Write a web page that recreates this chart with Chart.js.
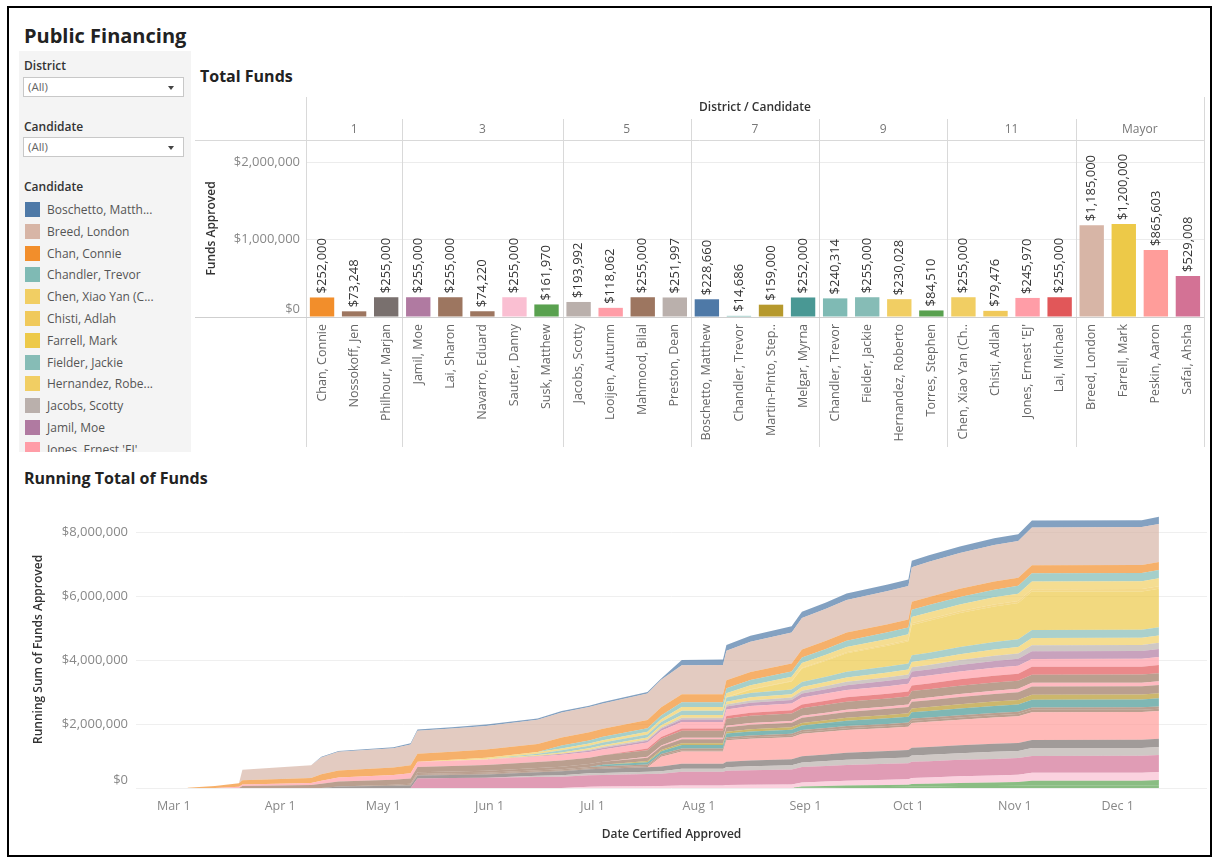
<!DOCTYPE html>
<html lang="en">
<head>
<meta charset="utf-8">
<title>Public Financing</title>
<script src="https://cdn.jsdelivr.net/npm/chart.js@4.4.1/dist/chart.umd.min.js"></script>
<style>
  html, body { margin: 0; padding: 0; background: #fff; }
  body { position: relative; width: 1217px; height: 861px; overflow: hidden; font-family: "Open Sans", Lato, sans-serif; color: #333; }
  .frame { position: absolute; left: 7px; top: 6px; width: 1201px; height: 847px; border: 2px solid #000; pointer-events: none; }
  .title { position: absolute; font-weight: 700; color: #222; white-space: nowrap; }
  .sidebar { position: absolute; left: 19px; top: 51px; width: 172px; height: 401px; background: #f4f4f4; overflow: hidden; }
  .label { position: absolute; left: 5px; font-size: 12px; font-weight: 600; color: #333; line-height: 16px; }
  .select { position: absolute; left: 4px; width: 161px; height: 20px; background: #fff; border: 1px solid #c8c8c8; box-sizing: border-box; font-size: 11.5px; color: #666; line-height: 18px; padding-left: 4px; }
  .select .arrow { position: absolute; right: 9px; top: 8px; width: 0; height: 0; border-left: 3px solid transparent; border-right: 3px solid transparent; border-top: 4px solid #444; }
  .legend-item { position: absolute; left: 6px; height: 16px; font-size: 12px; color: #555; line-height: 16px; white-space: nowrap; }
  .legend-item i { position: absolute; left: 0; top: 0; width: 15px; height: 15px; }
  .legend-item span { position: absolute; left: 22px; top: 0; }
  canvas { position: absolute; }
</style>
</head>
<body>
<div class="title" style="left:24px;top:23px;font-size:20px;line-height:26px;">Public Financing</div>
<div class="sidebar" id="sidebar">
  <div class="label" style="top:7px;">District</div>
  <div class="select" style="top:26px;">(All)<span class="arrow"></span></div>
  <div class="label" style="top:68px;">Candidate</div>
  <div class="select" style="top:86px;">(All)<span class="arrow"></span></div>
  <div class="label" style="top:128px;">Candidate</div>
</div>
<div class="title" style="left:200px;top:66px;font-size:16px;line-height:20px;">Total Funds</div>
<div class="title" style="left:24px;top:468px;font-size:16px;line-height:20px;">Running Total of Funds</div>
<canvas id="bars" width="1015" height="365" style="left:195px;top:90px;width:1015px;height:365px;"></canvas>
<canvas id="running" width="1195" height="355" style="left:17px;top:495px;width:1195px;height:355px;"></canvas>
<div class="frame"></div>

<script>
// ---------- Total funds per candidate, grouped by district ----------
const barLabels = ['Chan, Connie', 'Nossokoff, Jen', 'Philhour, Marjan',
  'Jamil, Moe', 'Lai, Sharon', 'Navarro, Eduard', 'Sauter, Danny', 'Susk, Matthew',
  'Jacobs, Scotty', 'Looijen, Autumn', 'Mahmood, Bilal', 'Preston, Dean',
  'Boschetto, Matthew', 'Chandler, Trevor', 'Martin-Pinto, Step..', 'Melgar, Myrna',
  'Chandler, Trevor', 'Fielder, Jackie', 'Hernandez, Roberto', 'Torres, Stephen',
  'Chen, Xiao Yan (Ch..', 'Chisti, Adlah', "Jones, Ernest 'EJ'", 'Lai, Michael',
  'Breed, London', 'Farrell, Mark', 'Peskin, Aaron', 'Safai, Ahsha'];
const barDistricts = ['1', '1', '1', '3', '3', '3', '3', '3', '5', '5', '5', '5',
  '7', '7', '7', '7', '9', '9', '9', '9', '11', '11', '11', '11',
  'Mayor', 'Mayor', 'Mayor', 'Mayor'];
const fundsApproved = [252000, 73248, 255000,
  255000, 255000, 74220, 255000, 161970,
  193992, 118062, 255000, 251997,
  228660, 14686, 159000, 252000,
  240314, 255000, 230028, 84510,
  255000, 79476, 245970, 255000,
  1185000, 1200000, 865603, 529008];
const barTicks = [0, 1000000, 2000000];

// ---------- Candidate legend (as listed in the side panel) ----------
const legendLabels = ['Boschetto, Matth...', 'Breed, London', 'Chan, Connie', 'Chandler, Trevor',
  'Chen, Xiao Yan (C...', 'Chisti, Adlah', 'Farrell, Mark', 'Fielder, Jackie',
  'Hernandez, Robe...', 'Jacobs, Scotty', 'Jamil, Moe', "Jones, Ernest 'EJ'"];

// ---------- Running total of funds approved, by certification date ----------
const runDates = ['2024-03-05', '2024-03-13', '2024-03-20', '2024-03-21', '2024-04-10', '2024-04-13',
  '2024-04-18', '2024-05-04', '2024-05-09', '2024-05-11', '2024-05-21', '2024-05-31',
  '2024-06-15', '2024-06-22', '2024-06-30', '2024-07-04', '2024-07-17', '2024-07-21',
  '2024-07-27', '2024-08-08', '2024-08-09', '2024-08-16', '2024-08-28', '2024-08-31',
  '2024-09-07', '2024-09-13', '2024-09-25', '2024-10-01', '2024-10-02', '2024-10-07',
  '2024-10-16', '2024-10-26', '2024-11-02', '2024-11-06', '2024-12-08', '2024-12-13'];

const runBoschetto = [0, 0, 0, 0, 0, 30000,
  30000, 30000, 35000, 40000, 40000, 40000,
  40000, 45000, 45000, 45000, 45000, 45000,
  170000, 170000, 180000, 185000, 190000, 190000,
  195000, 200000, 200000, 200000, 200000, 205000,
  205000, 210000, 210000, 215000, 215000, 228660];
const runBreed = [0, 0, 0, 330000, 400000, 520000,
  580000, 600000, 650000, 720000, 720000, 740000,
  760000, 780000, 790000, 790000, 830000, 860000,
  900000, 910000, 925000, 950000, 970000, 985000,
  1000000, 1020000, 1040000, 1050000, 1080000, 1100000,
  1120000, 1140000, 1150000, 1180000, 1185000, 1185000];
const runChan = [10000, 60000, 110000, 130000, 150000, 200000,
  220000, 230000, 252000, 252000, 252000, 252000,
  252000, 252000, 252000, 252000, 252000, 252000,
  252000, 252000, 252000, 252000, 252000, 252000,
  252000, 252000, 252000, 252000, 252000, 252000,
  252000, 252000, 252000, 252000, 252000, 252000];
const runChandler = [0, 0, 0, 0, 0, 0,
  0, 0, 0, 0, 0, 0,
  0, 90000, 100000, 105000, 115000, 120000,
  150000, 150000, 155000, 160000, 165000, 175000,
  185000, 195000, 205000, 210000, 225000, 230000,
  235000, 240000, 245000, 255000, 255000, 255000];
const runChen = [0, 0, 0, 0, 0, 0,
  0, 0, 0, 0, 30000, 40000,
  50000, 60000, 65000, 70000, 80000, 85000,
  110000, 110000, 115000, 125000, 130000, 145000,
  155000, 165000, 175000, 180000, 200000, 205000,
  215000, 225000, 230000, 245000, 245000, 255000];
const runChisti = [0, 0, 0, 0, 0, 0,
  0, 0, 0, 0, 0, 0,
  0, 0, 0, 0, 0, 0,
  10000, 10000, 12000, 15000, 18000, 25000,
  28000, 32000, 36000, 40000, 48000, 50000,
  55000, 60000, 65000, 75000, 75000, 79476];
const runFarrell = [0, 0, 0, 0, 0, 0,
  0, 0, 0, 0, 0, 0,
  0, 0, 0, 0, 0, 0,
  0, 0, 0, 100000, 250000, 420000,
  500000, 580000, 650000, 690000, 950000, 1000000,
  1060000, 1110000, 1130000, 1200000, 1200000, 1200000];
const runFielder = [0, 0, 0, 0, 0, 0,
  0, 0, 0, 0, 0, 0,
  40000, 70000, 80000, 90000, 100000, 105000,
  130000, 130000, 135000, 140000, 145000, 160000,
  170000, 180000, 190000, 195000, 210000, 215000,
  225000, 235000, 240000, 250000, 250000, 255000];
const runHernandez = [0, 0, 0, 0, 0, 0,
  0, 0, 0, 0, 0, 20000,
  30000, 40000, 45000, 50000, 60000, 65000,
  85000, 85000, 90000, 100000, 105000, 115000,
  125000, 135000, 145000, 150000, 165000, 170000,
  185000, 200000, 205000, 225000, 225000, 230028];
const runJacobs = [0, 0, 0, 0, 0, 0,
  0, 0, 0, 0, 0, 0,
  0, 0, 30000, 35000, 40000, 45000,
  55000, 55000, 60000, 70000, 75000, 85000,
  95000, 105000, 115000, 120000, 135000, 140000,
  150000, 160000, 165000, 185000, 185000, 193992];
const runJamil = [0, 0, 0, 0, 0, 0,
  0, 0, 0, 0, 0, 0,
  20000, 30000, 40000, 45000, 55000, 60000,
  80000, 80000, 90000, 100000, 110000, 125000,
  140000, 150000, 165000, 170000, 185000, 190000,
  205000, 215000, 220000, 245000, 245000, 255000];
const runJones = [0, 0, 40000, 50000, 70000, 100000,
  130000, 150000, 160000, 160000, 165000, 170000,
  175000, 180000, 185000, 185000, 190000, 195000,
  200000, 200000, 205000, 210000, 215000, 220000,
  225000, 230000, 235000, 240000, 245970, 245970,
  245970, 245970, 245970, 245970, 245970, 245970];
const runLaiMichael = [0, 0, 0, 0, 0, 0,
  0, 0, 0, 0, 0, 0,
  0, 0, 0, 0, 50000, 55000,
  75000, 75000, 85000, 95000, 100000, 115000,
  125000, 140000, 150000, 160000, 175000, 185000,
  200000, 215000, 220000, 245000, 245000, 255000];
const runLaiSharon = [0, 0, 0, 60000, 90000, 130000,
  150000, 160000, 170000, 170000, 175000, 180000,
  185000, 190000, 195000, 200000, 205000, 210000,
  220000, 220000, 225000, 230000, 235000, 240000,
  245000, 248000, 250000, 250000, 255000, 255000,
  255000, 255000, 255000, 255000, 255000, 255000];
const runLooijen = [0, 0, 0, 0, 0, 0,
  0, 0, 0, 0, 0, 0,
  0, 0, 0, 0, 30000, 32000,
  40000, 40000, 45000, 50000, 52000, 60000,
  65000, 70000, 75000, 78000, 85000, 88000,
  95000, 100000, 105000, 115000, 115000, 118062];
const runMahmood = [0, 0, 0, 0, 0, 0,
  0, 0, 0, 50000, 55000, 60000,
  70000, 80000, 90000, 95000, 105000, 110000,
  130000, 130000, 135000, 140000, 145000, 160000,
  170000, 180000, 190000, 195000, 205000, 210000,
  225000, 235000, 240000, 255000, 255000, 255000];
const runMartinPinto = [0, 0, 0, 0, 0, 0,
  0, 0, 0, 0, 0, 0,
  0, 0, 0, 0, 40000, 42000,
  55000, 55000, 60000, 70000, 72000, 80000,
  90000, 95000, 105000, 110000, 120000, 125000,
  135000, 140000, 145000, 155000, 155000, 159000];
const runMelgar = [0, 0, 0, 0, 0, 0,
  0, 0, 0, 0, 0, 0,
  0, 0, 0, 50000, 70000, 80000,
  110000, 110000, 115000, 125000, 130000, 145000,
  155000, 165000, 175000, 180000, 195000, 200000,
  210000, 220000, 225000, 245000, 245000, 252000];
const runNavarro = [0, 0, 0, 0, 0, 0,
  0, 30000, 30000, 30000, 32000, 35000,
  38000, 40000, 42000, 44000, 46000, 48000,
  52000, 52000, 55000, 58000, 60000, 63000,
  65000, 67000, 69000, 70000, 72000, 72000,
  73000, 74220, 74220, 74220, 74220, 74220];
const runNossokoff = [0, 0, 0, 0, 0, 0,
  0, 0, 20000, 20000, 22000, 24000,
  26000, 28000, 30000, 32000, 35000, 37000,
  40000, 40000, 42000, 45000, 48000, 52000,
  55000, 58000, 60000, 62000, 65000, 66000,
  68000, 70000, 70000, 73248, 73248, 73248];
const runPeskin = [0, 0, 0, 0, 0, 0,
  0, 0, 0, 0, 0, 0,
  0, 0, 0, 0, 0, 310000,
  380000, 380000, 670000, 680000, 690000, 700000,
  705000, 710000, 720000, 730000, 780000, 790000,
  800000, 820000, 830000, 865603, 865603, 865603];
const runPhilhour = [0, 0, 0, 0, 0, 0,
  50000, 70000, 80000, 90000, 95000, 100000,
  110000, 120000, 125000, 130000, 140000, 145000,
  160000, 160000, 170000, 180000, 185000, 195000,
  205000, 215000, 225000, 230000, 240000, 242000,
  245000, 250000, 250000, 255000, 255000, 255000];
const runPreston = [0, 0, 0, 0, 0, 0,
  0, 0, 0, 0, 0, 0,
  40000, 50000, 60000, 65000, 75000, 80000,
  95000, 95000, 110000, 125000, 130000, 145000,
  155000, 165000, 175000, 180000, 195000, 200000,
  210000, 220000, 225000, 245000, 245000, 251997];
const runSafai = [0, 0, 0, 0, 0, 0,
  0, 0, 0, 300000, 310000, 320000,
  340000, 350000, 360000, 360000, 380000, 385000,
  430000, 430000, 450000, 455000, 470000, 480000,
  485000, 490000, 495000, 500000, 510000, 512000,
  515000, 520000, 520000, 529008, 529008, 529008];
const runSauter = [0, 0, 0, 0, 0, 0,
  0, 0, 0, 0, 0, 0,
  0, 0, 40000, 45000, 55000, 60000,
  75000, 75000, 90000, 100000, 110000, 125000,
  140000, 150000, 165000, 170000, 185000, 190000,
  205000, 215000, 225000, 245000, 250000, 255000];
const runSusk = [0, 0, 0, 0, 0, 0,
  0, 0, 0, 0, 0, 0,
  0, 0, 0, 0, 0, 0,
  0, 0, 0, 0, 0, 30000,
  40000, 50000, 60000, 65000, 80000, 85000,
  100000, 110000, 120000, 150000, 150000, 161970];
const runTorres = [0, 0, 0, 0, 0, 0,
  0, 0, 0, 0, 0, 0,
  0, 0, 0, 0, 0, 0,
  0, 0, 0, 0, 0, 20000,
  25000, 30000, 35000, 40000, 45000, 50000,
  60000, 65000, 70000, 80000, 80000, 84510];

// Series in legend (alphabetical) order; the first one sits on top of the stack.
const runSeries = [
  ['Boschetto, Matthew', runBoschetto], ['Breed, London', runBreed], ['Chan, Connie', runChan],
  ['Chandler, Trevor', runChandler], ['Chen, Xiao Yan (Cheyenne)', runChen], ['Chisti, Adlah', runChisti],
  ['Farrell, Mark', runFarrell], ['Fielder, Jackie', runFielder], ['Hernandez, Roberto', runHernandez],
  ['Jacobs, Scotty', runJacobs], ['Jamil, Moe', runJamil], ["Jones, Ernest 'EJ'", runJones],
  ['Lai, Michael', runLaiMichael], ['Lai, Sharon', runLaiSharon], ['Looijen, Autumn', runLooijen],
  ['Mahmood, Bilal', runMahmood], ['Martin-Pinto, Stephen', runMartinPinto], ['Melgar, Myrna', runMelgar],
  ['Navarro, Eduard', runNavarro], ['Nossokoff, Jen', runNossokoff], ['Peskin, Aaron', runPeskin],
  ['Philhour, Marjan', runPhilhour], ['Preston, Dean', runPreston], ['Safai, Ahsha', runSafai],
  ['Sauter, Danny', runSauter], ['Susk, Matthew', runSusk], ['Torres, Stephen', runTorres]
];
const monthTickDates = ['2024-03-01', '2024-04-01', '2024-05-01', '2024-06-01', '2024-07-01',
  '2024-08-01', '2024-09-01', '2024-10-01', '2024-11-01', '2024-12-01'];
const monthTickLabels = ['Mar 1', 'Apr 1', 'May 1', 'Jun 1', 'Jul 1', 'Aug 1', 'Sep 1', 'Oct 1', 'Nov 1', 'Dec 1'];
const runTicks = [0, 2000000, 4000000, 6000000, 8000000];

// ---------- Styling ----------
const FONT = '"Open Sans", Lato, sans-serif';
const palette = {
  'Boschetto, Matthew': '#4E79A7', 'Breed, London': '#D7B5A6', 'Chan, Connie': '#F28E2B',
  'Chandler, Trevor': '#7FBAB4', 'Chen, Xiao Yan (Cheyenne)': '#F1CE63', 'Chisti, Adlah': '#F0C95A',
  'Farrell, Mark': '#EDC948', 'Fielder, Jackie': '#86BCB6', 'Hernandez, Roberto': '#F1CE63',
  'Jacobs, Scotty': '#BAB0AC', 'Jamil, Moe': '#B07AA1', "Jones, Ernest 'EJ'": '#FF9DA7',
  'Lai, Michael': '#E15759', 'Lai, Sharon': '#9D7660', 'Looijen, Autumn': '#FF9DA7',
  'Mahmood, Bilal': '#9D7660', 'Martin-Pinto, Stephen': '#B6992D', 'Melgar, Myrna': '#499894',
  'Navarro, Eduard': '#9D7660', 'Nossokoff, Jen': '#9D7660', 'Peskin, Aaron': '#FF9D9A',
  'Philhour, Marjan': '#79706E', 'Preston, Dean': '#BAB0AC', 'Safai, Ahsha': '#D37295',
  'Sauter, Danny': '#FABFD2', 'Susk, Matthew': '#59A14F', 'Torres, Stephen': '#59A14F'
};
function colorOf(label) {
  const stem = label.replace(/\.+$/, '');
  const key = Object.keys(palette).find(k => k.startsWith(stem));
  return palette[key] || '#999';
}
function withAlpha(hex, a) {
  const n = parseInt(hex.slice(1), 16);
  return `rgba(${n >> 16},${(n >> 8) & 255},${n & 255},${a})`;
}
const money = v => '$' + Math.round(v).toLocaleString('en-US');
const dayOf = s => (Date.parse(s) - Date.parse('2024-01-01')) / 864e5;

runSeries.forEach(([name, vals]) => {
  if (vals.length !== runDates.length) throw new Error(name + ': ' + vals.length + ' values');
});

// ---------- Side panel legend ----------
const sidebar = document.getElementById('sidebar');
legendLabels.forEach((label, i) => {
  const item = document.createElement('div');
  item.className = 'legend-item';
  item.style.top = (151 + i * 21.8) + 'px';
  item.innerHTML = `<i style="background:${colorOf(label)}"></i><span></span>`;
  item.querySelector('span').textContent = label;
  sidebar.appendChild(item);
});

// ---------- Bar chart: panes, district headers and value labels ----------
const barDecor = {
  id: 'barDecor',
  beforeDatasetsDraw(chart) {
    const { ctx, chartArea: area, scales: { x, y } } = chart;
    const n = barLabels.length;
    const half = (x.getPixelForValue(1) - x.getPixelForValue(0)) / 2;
    const bottom = chart.height - 8;
    ctx.save();
    ctx.strokeStyle = '#d9d9d9';
    ctx.lineWidth = 1;
    const vline = (px, y0, y1) => { ctx.beginPath(); ctx.moveTo(Math.round(px) + 0.5, y0); ctx.lineTo(Math.round(px) + 0.5, y1); ctx.stroke(); };
    const hline = (py, x0, x1) => { ctx.beginPath(); ctx.moveTo(x0, Math.round(py) + 0.5); ctx.lineTo(x1, Math.round(py) + 0.5); ctx.stroke(); };
    vline(area.left, 7, bottom);
    vline(area.right, 7, bottom);
    hline(area.top, 0, area.right);
    ctx.textAlign = 'center';
    ctx.textBaseline = 'middle';
    ctx.fillStyle = '#333';
    ctx.font = `600 12px ${FONT}`;
    ctx.fillText('District / Candidate', (area.left + area.right) / 2, 18);
    ctx.fillStyle = '#777';
    ctx.font = `12px ${FONT}`;
    let start = 0;
    for (let i = 1; i <= n; i++) {
      if (i === n || barDistricts[i] !== barDistricts[start]) {
        const left = x.getPixelForValue(start) - half;
        const right = x.getPixelForValue(i - 1) + half;
        if (i < n) vline(right, 29, bottom);
        ctx.fillText(barDistricts[start], (left + right) / 2, 40);
        start = i;
      }
    }
    ctx.strokeStyle = '#cfcfcf';
    hline(y.getPixelForValue(0), 0, area.right);
    ctx.restore();
  },
  afterDatasetsDraw(chart) {
    const { ctx } = chart;
    const meta = chart.getDatasetMeta(0);
    ctx.save();
    ctx.fillStyle = '#333';
    ctx.font = `13px ${FONT}`;
    ctx.textAlign = 'left';
    ctx.textBaseline = 'middle';
    meta.data.forEach((bar, i) => {
      ctx.save();
      ctx.translate(bar.x, bar.y - 4);
      ctx.rotate(-Math.PI / 2);
      ctx.fillText(money(fundsApproved[i]), 0, 0);
      ctx.restore();
    });
    ctx.restore();
  }
};

new Chart(document.getElementById('bars'), {
  type: 'bar',
  data: {
    labels: barLabels,
    datasets: [{
      data: fundsApproved,
      backgroundColor: barLabels.map(colorOf),
      barPercentage: 0.76,
      categoryPercentage: 1
    }]
  },
  options: {
    responsive: false,
    animation: false,
    layout: { padding: { top: 50, right: 5, left: 0, bottom: 0 } },
    plugins: { legend: { display: false }, tooltip: { enabled: false } },
    scales: {
      x: {
        grid: { display: false, drawTicks: false },
        border: { display: false },
        ticks: { autoSkip: false, maxRotation: 90, minRotation: 90, padding: 7, color: '#666', font: { family: FONT, size: 12.5 } },
        afterFit: s => { s.height = 138; }
      },
      y: {
        min: 0,
        max: 2284000,
        grid: { color: c => (c.tick && c.tick.value === 0 ? 'rgba(0,0,0,0)' : '#ececec'), drawTicks: false },
        border: { display: false },
        ticks: { padding: 6, color: '#888', font: { family: FONT, size: 13 }, callback: v => (v === 0 ? ['$0', ''] : money(v)) },
        afterBuildTicks: s => { s.ticks = barTicks.map(v => ({ value: v })); },
        afterFit: s => { s.width = 111; },
        title: { display: true, text: 'Funds Approved', color: '#333', font: { family: FONT, size: 12, weight: '600' }, padding: { top: 9, bottom: 0 } }
      }
    }
  },
  plugins: [barDecor]
});

// ---------- Stacked running-total area chart ----------
const runX = runDates.map(dayOf);
const runDatasets = runSeries.slice().reverse().map(([name, vals], i) => ({
  label: name,
  data: vals.map((v, j) => ({ x: runX[j], y: v })),
  backgroundColor: withAlpha(palette[name], 0.7),
  borderWidth: 0,
  pointRadius: 0,
  tension: 0,
  fill: i === 0 ? 'origin' : '-1'
}));

new Chart(document.getElementById('running'), {
  type: 'line',
  data: { datasets: runDatasets },
  options: {
    responsive: false,
    animation: false,
    layout: { padding: { top: 10, right: 5, left: 0, bottom: 0 } },
    plugins: { legend: { display: false }, tooltip: { enabled: false } },
    scales: {
      x: {
        type: 'linear',
        min: dayOf('2024-02-19'),
        max: dayOf('2024-12-27'),
        grid: { display: false, drawTicks: false },
        border: { display: false },
        ticks: {
          autoSkip: false, maxRotation: 0, padding: 11, color: '#888', font: { family: FONT, size: 12.5 },
          callback: v => { const k = monthTickDates.findIndex(d => dayOf(d) === v); return k >= 0 ? monthTickLabels[k] : ''; }
        },
        afterBuildTicks: s => { s.ticks = monthTickDates.map(d => ({ value: dayOf(d) })); },
        afterFit: s => { s.height = 62; },
        title: { display: true, text: 'Date Certified Approved', color: '#333', font: { family: FONT, size: 12, weight: '600' }, padding: { top: 0, bottom: 8 } }
      },
      y: {
        stacked: true,
        min: 0,
        max: 8664000,
        grid: { color: '#efefef', drawTicks: false },
        border: { display: false },
        ticks: { padding: 8, color: '#888', font: { family: FONT, size: 13 }, callback: v => (v === 0 ? ['$0', ''] : money(v)) },
        afterBuildTicks: s => { s.ticks = runTicks.map(v => ({ value: v })); },
        afterFit: s => { s.width = 119; },
        title: { display: true, text: 'Running Sum of Funds Approved', color: '#333', font: { family: FONT, size: 12, weight: '600' }, padding: { top: 14, bottom: 0 } }
      }
    }
  }
});
</script>
</body>
</html>
